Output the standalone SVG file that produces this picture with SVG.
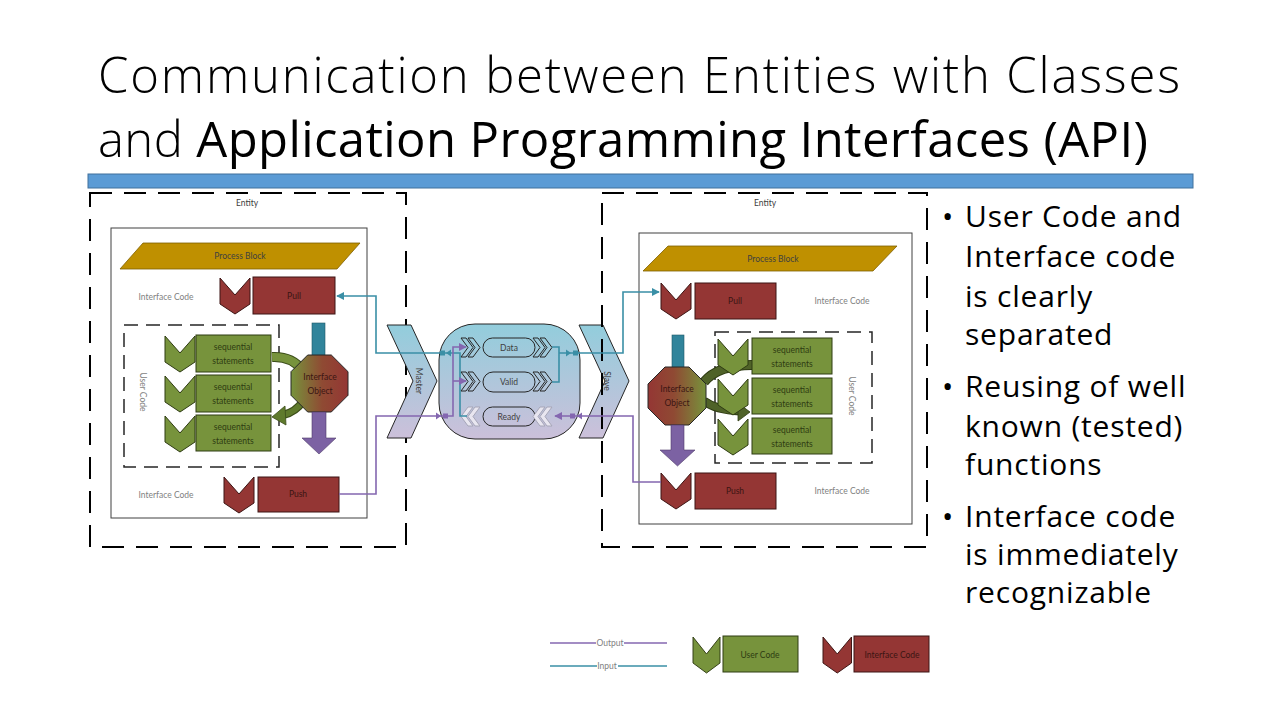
<svg xmlns="http://www.w3.org/2000/svg" width="1280" height="720" viewBox="0 0 1280 720">
  <style>
    .title { font-family: "Open Sans", "Noto Sans", "Liberation Sans", sans-serif; font-size: 49px; fill: #000; font-variant-ligatures: none; }
    .bullet { font-family: "Open Sans", "Noto Sans", "Liberation Sans", sans-serif; font-size: 30px; letter-spacing: 0.8px; fill: #000; }
    .lbl { font-family: Lato, "Open Sans", "Liberation Sans", sans-serif; font-size: 8.5px; text-anchor: middle; dominant-baseline: central; }
    .gray { fill: #7f7f7f; }
    .dark { fill: #404040; }
    .onred { fill: #3b1513; }
    .ongreen { fill: #2e3c12; }
    .entity { fill: none; stroke: #000; stroke-width: 2; stroke-dasharray: 22 12; }
    .ucbox { fill: none; stroke: #262626; stroke-width: 1.5; stroke-dasharray: 14 8; }
    .inner { fill: #fff; stroke: #404040; stroke-width: 1; }
    .proc { fill: #bf9000; stroke: #7f6000; stroke-width: 0.8; }
    .red { fill: #943634; stroke: #3d1514; stroke-width: 1; }
    .green { fill: #77933c; stroke: #2f3c13; stroke-width: 1; }
    .teal { fill: #31849b; stroke: #1f5968; stroke-width: 0.6; }
    .purp { fill: #7c62a3; stroke: #4d3b68; stroke-width: 0.6; }
    .pill { fill: none; stroke: #262626; stroke-width: 1; }
    .chevr { fill: none; stroke: #262626; stroke-width: 1; }
    .chevw { fill: #e8e6f0; stroke: #a6a6b8; stroke-width: 1; }
    .cin { fill: none; stroke: #3a8fa6; stroke-width: 1.6; }
    .cout { fill: none; stroke: #8467b0; stroke-width: 1.6; }
  </style>
  <defs>
    <!-- downward chevron used for code markers -->
    <path id="chev" d="M0,0 L15,17 L30,0 L30,26 L15,36 L0,26 Z"/>
    <linearGradient id="chanGrad" x1="0" y1="0" x2="0" y2="1">
      <stop offset="0" stop-color="#92cddc"/>
      <stop offset="1" stop-color="#ccc0da"/>
    </linearGradient>
    <linearGradient id="objGR" x1="0" y1="0" x2="1" y2="0">
      <stop offset="0" stop-color="#77933c"/>
      <stop offset="0.55" stop-color="#8f4a33"/>
      <stop offset="1" stop-color="#943634"/>
    </linearGradient>
    <linearGradient id="objRG" x1="0" y1="0" x2="1" y2="0">
      <stop offset="0" stop-color="#943634"/>
      <stop offset="0.45" stop-color="#8f4a33"/>
      <stop offset="1" stop-color="#77933c"/>
    </linearGradient>
    <marker id="arrIn" viewBox="0 0 10 10" refX="9" refY="5" markerWidth="5" markerHeight="5" orient="auto">
      <path d="M0,0 L10,5 L0,10 Z" fill="#3a8fa6"/>
    </marker>
    <marker id="arrOut" viewBox="0 0 10 10" refX="9" refY="5" markerWidth="5" markerHeight="5" orient="auto">
      <path d="M0,0 L10,5 L0,10 Z" fill="#8467b0"/>
    </marker>
  </defs>

  <rect width="1280" height="720" fill="#fff"/>

  <!-- heading -->
  <g id="title">
    <text class="title" x="98" y="93" font-weight="300" textLength="1082">Communication between Entities with Classes</text>
    <text class="title" x="98" y="157" textLength="1050"><tspan font-weight="300">and </tspan>Application Programming Interfaces (API)</text>
    <rect x="88" y="174" width="1105" height="14" fill="#5b9bd5" stroke="#41719c" stroke-width="1"/>
  </g>

  <!-- ===== master entity ===== -->
  <g id="entity-master">
    <rect class="entity" x="90" y="193" width="316" height="354"/>
    <text class="lbl dark" x="247" y="203">Entity</text>
    <rect class="inner" x="111" y="228" width="256" height="290"/>
    <g id="m-process">
      <polygon class="proc" points="120,269 143,243 360,243 337,269"/>
      <text class="lbl dark" x="240" y="256">Process Block</text>
    </g>
    <g id="m-pull">
      <text class="lbl gray" x="166" y="297">Interface Code</text>
      <use href="#chev" class="red" x="220" y="278"/>
      <rect class="red" x="253" y="277" width="82" height="37"/>
      <text class="lbl onred" x="294" y="296">Pull</text>
    </g>
    <g id="m-usercode">
      <rect class="ucbox" x="124" y="325" width="155" height="142"/>
      <text class="lbl gray" transform="translate(143,392) rotate(90)" x="0" y="0">User Code</text>
      <use href="#chev" class="green" x="165" y="336"/>
      <rect class="green" x="196" y="335" width="75" height="37"/>
      <text class="lbl ongreen" x="233" y="347">sequential</text>
      <text class="lbl ongreen" x="233" y="361">statements</text>
      <use href="#chev" class="green" x="165" y="376"/>
      <rect class="green" x="196" y="375" width="75" height="37"/>
      <text class="lbl ongreen" x="233" y="387">sequential</text>
      <text class="lbl ongreen" x="233" y="401">statements</text>
      <use href="#chev" class="green" x="165" y="416"/>
      <rect class="green" x="196" y="415" width="75" height="36"/>
      <text class="lbl ongreen" x="233" y="427">sequential</text>
      <text class="lbl ongreen" x="233" y="441">statements</text>
    </g>
    <g id="m-object">
      <rect class="teal" x="312" y="323" width="13" height="33"/>
      <path d="M272,357 Q292,356 302,370" fill="none" stroke="#3b4d19" stroke-width="10"/>
      <path d="M272,357 Q292,356 302,370" fill="none" stroke="#77933c" stroke-width="8"/>
      <path d="M303,401 Q296,412 283,415" fill="none" stroke="#3b4d19" stroke-width="8"/>
      <path d="M303,401 Q296,412 283,415" fill="none" stroke="#5f7a2c" stroke-width="6"/>
      <polygon points="285,406 272,417 286,425" fill="#5f7a2c" stroke="#3b4d19" stroke-width="0.8"/>
      <polygon points="307.7,355 331.3,355 348,371.7 348,395.3 331.3,412 307.7,412 291,395.3 291,371.7" fill="url(#objGR)" stroke="#262626" stroke-width="1"/>
      <text class="lbl onred" x="320" y="377">Interface</text>
      <text class="lbl onred" x="320" y="391">Object</text>
      <path class="purp" d="M312,412 L326,412 L326,438 L336,438 L319,454 L302,438 L312,438 Z"/>
    </g>
    <g id="m-push">
      <text class="lbl gray" x="166" y="495">Interface Code</text>
      <use href="#chev" class="red" x="224" y="477"/>
      <rect class="red" x="258" y="477" width="81" height="35"/>
      <text class="lbl onred" x="298" y="494">Push</text>
    </g>
  </g>

  <!-- ===== channel ===== -->
  <g id="master-port">
    <polygon points="387,325 411,325 437,381 411,438 387,438 413,381" fill="url(#chanGrad)" stroke="#262626" stroke-width="1"/>
    <text class="lbl dark" transform="translate(419,381) rotate(90)" x="0" y="0">Master</text>
  </g>
  <g id="slave-port">
    <polygon points="579,325 603,325 629,381 603,438 579,438 605,381" fill="url(#chanGrad)" stroke="#262626" stroke-width="1"/>
    <text class="lbl dark" transform="translate(607,381) rotate(90)" x="0" y="0">Slave</text>
  </g>
  <g id="channel">
    <rect x="439" y="324" width="141" height="115" rx="36" ry="36" fill="url(#chanGrad)" stroke="#262626" stroke-width="1"/>
    <g id="ch-data">
      <path class="chevr" d="M461,338 L466,338 L473,347.5 L466,357 L461,357 L468,347.5 Z M468,338 L473,338 L480,347.5 L473,357 L468,357 L475,347.5 Z"/>
      <rect class="pill" x="483" y="338" width="52" height="19" rx="9.5"/>
      <text class="lbl dark" x="509" y="348">Data</text>
      <path class="chevr" d="M533,338 L538,338 L545,347.5 L538,357 L533,357 L540,347.5 Z M540,338 L545,338 L552,347.5 L545,357 L540,357 L547,347.5 Z"/>
    </g>
    <g id="ch-valid">
      <path class="chevr" d="M461,372 L466,372 L473,381.5 L466,391 L461,391 L468,381.5 Z M468,372 L473,372 L480,381.5 L473,391 L468,391 L475,381.5 Z"/>
      <rect class="pill" x="483" y="372" width="52" height="20" rx="10"/>
      <text class="lbl dark" x="509" y="382">Valid</text>
      <path class="chevr" d="M533,372 L538,372 L545,381.5 L538,391 L533,391 L540,381.5 Z M540,372 L545,372 L552,381.5 L545,391 L540,391 L547,381.5 Z"/>
    </g>
    <g id="ch-ready">
      <path class="chevw" d="M480,407 L475,407 L468,416.5 L475,426 L480,426 L473,416.5 Z M473,407 L468,407 L461,416.5 L468,426 L473,426 L466,416.5 Z"/>
      <rect class="pill" x="483" y="407" width="52" height="19" rx="9.5"/>
      <text class="lbl dark" x="509" y="417">Ready</text>
      <path class="chevw" d="M552,407 L547,407 L540,416.5 L547,426 L552,426 L545,416.5 Z M545,407 L540,407 L533,416.5 L540,426 L545,426 L538,416.5 Z"/>
    </g>
  </g>

  <!-- ===== slave entity ===== -->
  <g id="entity-slave">
    <rect class="entity" x="602" y="193" width="325" height="354"/>
    <text class="lbl dark" x="765" y="203">Entity</text>
    <rect class="inner" x="639" y="233" width="273" height="291"/>
    <g id="s-process">
      <polygon class="proc" points="643,271 668,246 897,246 873,271"/>
      <text class="lbl dark" x="773" y="259">Process Block</text>
    </g>
    <g id="s-pull">
      <use href="#chev" class="red" x="661" y="283"/>
      <rect class="red" x="695" y="283" width="81" height="36"/>
      <text class="lbl onred" x="735" y="301">Pull</text>
      <text class="lbl gray" x="842" y="301">Interface Code</text>
    </g>
    <g id="s-usercode">
      <rect class="ucbox" x="715" y="332" width="157" height="131"/>
      <text class="lbl gray" transform="translate(852,396) rotate(90)" x="0" y="0">User Code</text>
    </g>
    <g id="s-object">
      <rect class="teal" x="672" y="335" width="12" height="33"/>
      <path d="M704,382 Q718,365 752,365" fill="none" stroke="#2f3c13" stroke-width="10"/>
      <path d="M704,382 Q718,365 752,365" fill="none" stroke="#4f6228" stroke-width="8"/>
      <path d="M704,401 Q716,410 740,411" fill="none" stroke="#2f3c13" stroke-width="9"/>
      <path d="M704,401 Q716,410 740,411" fill="none" stroke="#4f6228" stroke-width="7"/>
      <polygon points="738,403 750,412 738,421" fill="#4f6228" stroke="#2f3c13" stroke-width="0.8"/>
      <polygon points="665,367 689,367 706,384 706,408 689,425 665,425 648,408 648,384" fill="url(#objRG)" stroke="#262626" stroke-width="1"/>
      <text class="lbl onred" x="677" y="389">Interface</text>
      <text class="lbl onred" x="677" y="403">Object</text>
      <path class="purp" d="M671,425 L684,425 L684,450 L695,450 L677.5,466 L660,450 L671,450 Z"/>
    </g>
    <g id="s-statements">
      <use href="#chev" class="green" x="718" y="339"/>
      <rect class="green" x="752" y="338" width="80" height="36"/>
      <text class="lbl ongreen" x="792" y="350">sequential</text>
      <text class="lbl ongreen" x="792" y="364">statements</text>
      <use href="#chev" class="green" x="718" y="379"/>
      <rect class="green" x="752" y="378" width="80" height="36"/>
      <text class="lbl ongreen" x="792" y="390">sequential</text>
      <text class="lbl ongreen" x="792" y="404">statements</text>
      <use href="#chev" class="green" x="718" y="419"/>
      <rect class="green" x="752" y="418" width="80" height="36"/>
      <text class="lbl ongreen" x="792" y="430">sequential</text>
      <text class="lbl ongreen" x="792" y="444">statements</text>
    </g>
    <g id="s-push">
      <use href="#chev" class="red" x="661" y="473"/>
      <rect class="red" x="695" y="473" width="81" height="36"/>
      <text class="lbl onred" x="735" y="491">Push</text>
      <text class="lbl gray" x="842" y="491">Interface Code</text>
    </g>
  </g>

  <!-- ===== signal lines ===== -->
  <g id="connectors">
    <!-- ready back to master pull -->
    <path class="cin" d="M467,416 L460,416 L460,353 L376,353 L376,296 L337,296" marker-end="url(#arrIn)"/>
    <rect x="440" y="350.5" width="5" height="5" fill="#3a8fa6"/>
    <path d="M451,349.5 L446,353 L451,356.5 Z" fill="#3a8fa6"/>
    <!-- master push drives data and valid -->
    <path class="cout" d="M339,494 L376,494 L376,416 L453,416 L453,347 L466,347" marker-end="url(#arrOut)"/>
    <path class="cout" d="M453,381 L466,381" marker-end="url(#arrOut)"/>
    <path d="M436,412.5 L441,416 L436,419.5 Z" fill="#8467b0"/>
    <rect x="443" y="413.5" width="5" height="5" fill="#8467b0"/>
    <!-- data and valid to slave pull -->
    <path class="cin" d="M552,347 L559,347 L559,382 L552,382"/>
    <path class="cin" d="M559,353 L623,353 L623,292 L659,292" marker-end="url(#arrIn)"/>
    <path d="M566,349.5 L571,353 L566,356.5 Z" fill="#3a8fa6"/>
    <rect x="573" y="350.5" width="5" height="5" fill="#3a8fa6"/>
    <!-- slave push drives ready -->
    <path class="cout" d="M661,482 L633,482 L633,416 L555,416" marker-end="url(#arrOut)"/>
    <rect x="570" y="413.5" width="5" height="5" fill="#8467b0"/>
    <path d="M582,412.5 L577,416 L582,419.5 Z" fill="#8467b0"/>
  </g>

  <!-- ===== notes ===== -->
  <g id="notes">
    <text class="bullet" x="942" y="227">•</text>
    <text class="bullet" x="965" y="227">User Code and</text>
    <text class="bullet" x="965" y="267">Interface code</text>
    <text class="bullet" x="965" y="307">is clearly</text>
    <text class="bullet" x="965" y="345">separated</text>
    <text class="bullet" x="942" y="397">•</text>
    <text class="bullet" x="965" y="397">Reusing of well</text>
    <text class="bullet" x="965" y="437">known (tested)</text>
    <text class="bullet" x="965" y="475">functions</text>
    <text class="bullet" x="942" y="527">•</text>
    <text class="bullet" x="965" y="527">Interface code</text>
    <text class="bullet" x="965" y="565">is immediately</text>
    <text class="bullet" x="965" y="603">recognizable</text>
  </g>

  <!-- ===== legend ===== -->
  <g id="legend">
    <line x1="550" y1="643" x2="596" y2="643" stroke="#8467b0" stroke-width="1.6"/>
    <line x1="624" y1="643" x2="667" y2="643" stroke="#8467b0" stroke-width="1.6"/>
    <text class="lbl gray" x="610" y="643">Output</text>
    <line x1="550" y1="666" x2="597" y2="666" stroke="#3a8fa6" stroke-width="1.6"/>
    <line x1="618" y1="666" x2="667" y2="666" stroke="#3a8fa6" stroke-width="1.6"/>
    <text class="lbl gray" x="607" y="666">Input</text>
    <use href="#chev" class="green" transform="translate(693,637) scale(0.9,1)"/>
    <rect class="green" x="723" y="636" width="75" height="36"/>
    <text class="lbl ongreen" x="760" y="655">User Code</text>
    <use href="#chev" class="red" transform="translate(823,637) scale(0.95,1)"/>
    <rect class="red" x="854" y="636" width="75" height="36"/>
    <text class="lbl onred" x="892" y="655">Interface Code</text>
  </g>
</svg>
